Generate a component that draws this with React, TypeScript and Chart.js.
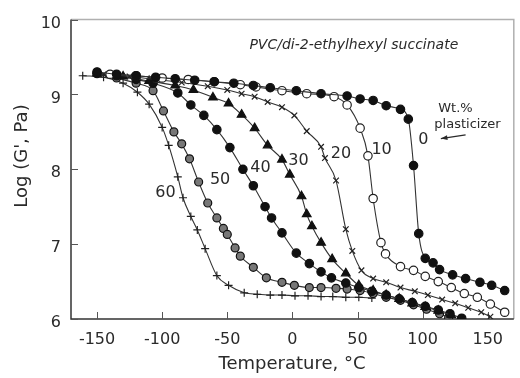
import React, { useEffect, useRef } from "react";
import { Chart, registerables } from "chart.js";

Chart.register(...registerables);

// ---- axis ticks ----
const tempTicks = [-150, -100, -50, 0, 50, 100, 150];
const logTicks = [6, 7, 8, 9, 10];

// ---- series: wt.% plasticizer ----
const seriesNames = ["0", "10", "20", "30", "40", "50", "60"];

const temp0 = [-150, -135, -120, -105, -90, -75, -60, -45, -30, -17, 3, 22, 42, 52, 62, 72, 83, 89, 93, 97, 102, 108, 113, 123, 133, 144, 153, 163];
const logG0 = [9.3, 9.27, 9.25, 9.23, 9.21, 9.19, 9.17, 9.15, 9.12, 9.09, 9.05, 9.01, 8.98, 8.94, 8.92, 8.85, 8.8, 8.67, 8.05, 7.14, 6.81, 6.75, 6.66, 6.59, 6.54, 6.49, 6.45, 6.38];

const temp10 = [-140, -120, -100, -80, -60, -40, -28, -8, 11, 32, 42, 52, 58, 62, 68, 71.5, 83, 93, 102, 112, 122, 132, 142, 152, 163];
const logG10 = [9.27, 9.25, 9.22, 9.2, 9.17, 9.13, 9.1, 9.05, 9.01, 8.97, 8.86, 8.55, 8.18, 7.61, 7.02, 6.87, 6.7, 6.65, 6.57, 6.5, 6.42, 6.34, 6.29, 6.2, 6.09];

const temp20 = [-145, -125, -105, -85, -65, -50, -39, -29, -19, -8, 1.5, 11, 22, 25, 33.5, 41, 46, 53, 62, 72, 83, 94, 104, 115, 125, 135, 145, 152];
const logG20 = [9.27, 9.24, 9.2, 9.16, 9.11, 9.06, 9.01, 8.97, 8.9, 8.83, 8.72, 8.51, 8.3, 8.15, 7.85, 7.2, 6.91, 6.65, 6.54, 6.49, 6.42, 6.37, 6.32, 6.26, 6.21, 6.15, 6.09, 6.03];

const temp30 = [-150, -130, -110, -90, -76, -61, -49, -39, -29, -19, -8, -2, 7, 11, 15, 22, 30.5, 41, 51, 62, 72, 82, 92, 102, 112, 122];
const logG30 = [9.28, 9.24, 9.18, 9.12, 9.06, 8.96, 8.88, 8.73, 8.55, 8.32, 8.13, 7.93, 7.64, 7.4, 7.24, 7.02, 6.8, 6.61, 6.45, 6.38, 6.32, 6.27, 6.21, 6.16, 6.11, 6.05];

const temp40 = [-150, -135, -120, -107, -88, -78, -68, -58, -48, -38, -30, -21, -16, -8, 3, 13, 22, 30, 41, 51, 61, 72, 82, 92, 102, 112, 121, 130];
const logG40 = [9.28, 9.25, 9.2, 9.15, 9.02, 8.86, 8.72, 8.53, 8.29, 8.0, 7.78, 7.5, 7.35, 7.15, 6.88, 6.74, 6.63, 6.55, 6.48, 6.42, 6.37, 6.32, 6.27, 6.22, 6.17, 6.12, 6.07, 6.01];

const temp50 = [-150, -135, -120, -107, -99, -91, -85, -79, -72, -65, -58, -53, -50, -44, -40, -30, -20, -8, 1.5, 13, 22, 33.5, 42, 52, 62, 72, 83, 93, 103, 113, 120];
const logG50 = [9.28, 9.22, 9.15, 9.05, 8.78, 8.5, 8.34, 8.14, 7.83, 7.55, 7.35, 7.21, 7.13, 6.95, 6.84, 6.69, 6.55, 6.49, 6.45, 6.42, 6.42, 6.41, 6.4, 6.38, 6.34, 6.29, 6.25, 6.19, 6.13, 6.07, 6.02];

const temp60 = [-161, -145, -130, -119, -110, -100, -95, -88, -84, -78, -73, -67, -58, -49, -37, -27, -17, -8, 2, 12, 22, 31, 41, 51, 61];
const logG60 = [9.25, 9.23, 9.15, 9.03, 8.87, 8.56, 8.32, 7.9, 7.62, 7.37, 7.19, 6.94, 6.58, 6.45, 6.35, 6.33, 6.32, 6.32, 6.31, 6.31, 6.3, 6.3, 6.29, 6.29, 6.28];

const temps = [temp0, temp10, temp20, temp30, temp40, temp50, temp60];
const logGs = [logG0, logG10, logG20, logG30, logG40, logG50, logG60];

const FONT = "'DejaVu Sans', sans-serif";
const INK = "#2a2a2a";

const markerStyles: any[] = [
  { pointStyle: "circle", radius: 4.2, bg: "#111", border: "#111" },
  { pointStyle: "circle", radius: 4.2, bg: "#fff", border: "#222" },
  { pointStyle: "crossRot", radius: 4, bg: "#222", border: "#222" },
  { pointStyle: "triangle", radius: 5, bg: "#111", border: "#111" },
  { pointStyle: "circle", radius: 4.2, bg: "#111", border: "#111" },
  { pointStyle: "circle", radius: 4, bg: "#777", border: "#111" },
  { pointStyle: "cross", radius: 4, bg: "#222", border: "#222" },
];

const annotationPlugin = {
  id: "annotations",
  beforeDatasetsDraw(chart: any) {
    const { ctx, chartArea: a, scales } = chart;
    const xs = scales.x;
    const ys = scales.y;
    ctx.save();
    // frame
    ctx.lineWidth = 1.5;
    ctx.strokeStyle = "#b0b0b0";
    ctx.beginPath();
    ctx.moveTo(a.left, a.top);
    ctx.lineTo(a.right, a.top);
    ctx.lineTo(a.right, a.bottom);
    ctx.stroke();
    ctx.strokeStyle = "#333";
    ctx.beginPath();
    ctx.moveTo(a.left, a.top);
    ctx.lineTo(a.left, a.bottom);
    ctx.lineTo(a.right, a.bottom);
    ctx.stroke();
    // inward ticks
    ctx.lineWidth = 1;
    ctx.strokeStyle = "#555";
    tempTicks.forEach((t) => {
      const px = Math.round(xs.getPixelForValue(t)) + 0.5;
      ctx.beginPath();
      ctx.moveTo(px, a.bottom);
      ctx.lineTo(px, a.bottom - 7);
      ctx.stroke();
    });
    logTicks.forEach((v) => {
      const py = Math.round(ys.getPixelForValue(v)) + 0.5;
      ctx.beginPath();
      ctx.moveTo(a.left, py);
      ctx.lineTo(a.left + 7, py);
      ctx.stroke();
    });
    ctx.restore();
  },
  afterDraw(chart: any) {
    const { ctx, scales } = chart;
    const xs = scales.x;
    const ys = scales.y;
    const P = (t: number, g: number) => [xs.getPixelForValue(t), ys.getPixelForValue(g)];
    ctx.save();
    ctx.fillStyle = INK;
    ctx.textBaseline = "middle";

    // title inside plot
    ctx.font = `italic 14px ${FONT}`;
    ctx.textAlign = "left";
    let [x, y] = P(-33, 9.66);
    ctx.fillText("PVC/di-2-ethylhexyl succinate", x, y);

    // wt.% plasticizer note
    ctx.font = `13px ${FONT}`;
    [x, y] = P(112, 8.81);
    ctx.fillText("Wt.%", x, y);
    [x, y] = P(109, 8.6);
    ctx.fillText("plasticizer", x, y);

    // arrow
    const [ax1, ay1] = P(133, 8.46);
    const [ax2, ay2] = P(114, 8.41);
    ctx.strokeStyle = INK;
    ctx.lineWidth = 1.3;
    ctx.beginPath();
    ctx.moveTo(ax1, ay1);
    ctx.lineTo(ax2, ay2);
    ctx.stroke();
    const ang = Math.atan2(ay2 - ay1, ax2 - ax1);
    ctx.beginPath();
    ctx.moveTo(ax2, ay2);
    ctx.lineTo(ax2 - 7 * Math.cos(ang - 0.35), ay2 - 7 * Math.sin(ang - 0.35));
    ctx.lineTo(ax2 - 7 * Math.cos(ang + 0.35), ay2 - 7 * Math.sin(ang + 0.35));
    ctx.closePath();
    ctx.fill();

    // curve labels
    ctx.font = `16px ${FONT}`;
    ctx.textAlign = "center";
    const labelPos = [
      [100.5, 8.39],
      [68.5, 8.26],
      [37.3, 8.2],
      [4.6, 8.11],
      [-24.5, 8.02],
      [-55.5, 7.86],
      [-97.5, 7.69],
    ];
    seriesNames.forEach((n, i) => {
      const [lx, ly] = P(labelPos[i][0], labelPos[i][1]);
      ctx.fillText(n, lx, ly);
    });

    // axis titles
    ctx.font = `18px ${FONT}`;
    ctx.fillText("Temperature, \u00B0C", 292, 364);
    ctx.translate(22, 156);
    ctx.rotate(-Math.PI / 2);
    ctx.fillText("Log (G', Pa)", 0, 0);
    ctx.restore();
  },
};

export default function App() {
  const ref = useRef<HTMLCanvasElement | null>(null);

  useEffect(() => {
    document.body.style.margin = "0";
    const canvas = ref.current!;
    const datasets = seriesNames.map((name, i) => {
      const m = markerStyles[i];
      return {
        label: name,
        data: temps[i].map((t, j) => ({ x: t, y: logGs[i][j] })),
        borderColor: "#333",
        borderWidth: 1.1,
        cubicInterpolationMode: "monotone" as const,
        pointStyle: m.pointStyle,
        pointRadius: m.radius,
        pointBackgroundColor: m.bg,
        pointBorderColor: m.border,
        pointBorderWidth: 1.2,
        fill: false,
      };
    });
    const chart = new Chart(canvas, {
      type: "line",
      data: { datasets },
      options: {
        animation: false,
        responsive: false,
        devicePixelRatio: 1,
        layout: { padding: { left: 0, top: 16, right: 2, bottom: 0 } },
        plugins: { legend: { display: false }, tooltip: { enabled: false } },
        scales: {
          x: {
            type: "linear",
            min: -170,
            max: 170,
            grid: { display: false, drawTicks: false },
            border: { display: false },
            afterBuildTicks: (s: any) => {
              s.ticks = tempTicks.map((v) => ({ value: v }));
            },
            afterFit: (s: any) => {
              s.height = 59;
            },
            ticks: {
              padding: 11,
              color: INK,
              font: { family: FONT, size: 16 },
              maxRotation: 0,
              autoSkip: false,
              callback: (v: any) => String(v),
            },
          },
          y: {
            type: "linear",
            min: 6,
            max: 10,
            grid: { display: false, drawTicks: false },
            border: { display: false },
            afterBuildTicks: (s: any) => {
              s.ticks = logTicks.map((v) => ({ value: v }));
            },
            afterFit: (s: any) => {
              s.width = 71;
            },
            ticks: {
              padding: 10,
              labelOffset: 4,
              color: INK,
              font: { family: FONT, size: 16 },
              callback: (v: any) => String(v),
            },
          },
        },
      },
      plugins: [annotationPlugin],
    } as any);
    return () => chart.destroy();
  }, []);

  return (
    <div style={{ position: "fixed", left: 0, top: 0, width: 520, height: 378, background: "#fff" }}>
      <canvas ref={ref} width={520} height={378} style={{ width: 520, height: 378, display: "block" }} />
    </div>
  );
}
